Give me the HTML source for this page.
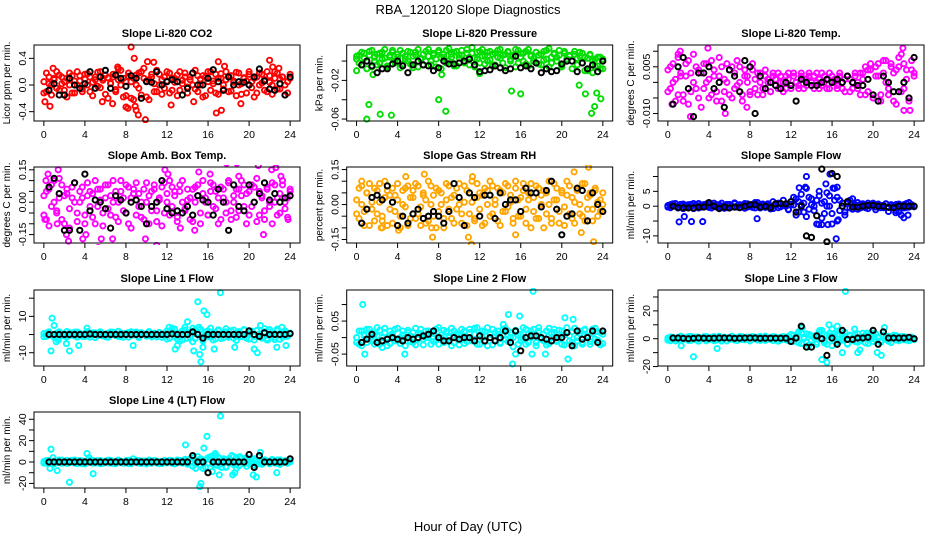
<!DOCTYPE html>
<html><head><meta charset="utf-8"><title>RBA_120120 Slope Diagnostics</title>
<style>html,body{margin:0;padding:0;background:#fff}svg{display:block;font-family:"Liberation Sans",sans-serif}</style>
</head><body>
<svg id="chart" width="936" height="540" viewBox="0 0 936 540" xmlns="http://www.w3.org/2000/svg">
<rect width="936" height="540" fill="#fff"/>
<text x="468" y="14" text-anchor="middle" font-size="13">RBA_120120  Slope Diagnostics</text>
<text x="468" y="531" text-anchor="middle" font-size="13">Hour of Day (UTC)</text>
<g id="panels"></g>
</svg>
<script>
const hours=[0,0.25,0.5,0.75,1,1.25,1.5,1.75,2,2.25,2.5,2.75,3,3.25,3.5,3.75,4,4.25,4.5,4.75,5,5.25,5.5,5.75,6,6.25,6.5,6.75,7,7.25,7.5,7.75,8,8.25,8.5,8.75,9,9.25,9.5,9.75,10,10.25,10.5,10.75,11,11.25,11.5,11.75,12,12.25,12.5,12.75,13,13.25,13.5,13.75,14,14.25,14.5,14.75,15,15.25,15.5,15.75,16,16.25,16.5,16.75,17,17.25,17.5,17.75,18,18.25,18.5,18.75,19,19.25,19.5,19.75,20,20.25,20.5,20.75,21,21.25,21.5,21.75,22,22.25,22.5,22.75,23,23.25,23.5,23.75,24];
const hoursBlack=[0.5,1,1.5,2,2.5,3,3.5,4,4.5,5,5.5,6,6.5,7,7.5,8,8.5,9,9.5,10,10.5,11,11.5,12,12.5,13,13.5,14,14.5,15,15.5,16,16.5,17,17.5,18,18.5,19,19.5,20,20.5,21,21.5,22,22.5,23,23.5,24];
const xTicks=[0,4,8,12,16,20,24];

const co2A=[0.05,-0.1,0.12,0.0,0.08,-0.05,0.15,0.02,-0.08,0.1,0.18,-0.12,0.06,0.0,0.14,-0.06,0.09,0.17,-0.1,0.04,0.12,-0.02,0.2,0.07,-0.14,0.11,0.03,0.16,-0.07,0.08,0.22,-0.18,0.05,0.13,-0.2,0.1,0.0,0.18,-0.15,0.25,0.06,-0.22,0.12,0.02,-0.1,0.16,0.08,-0.05,0.2,-0.12,0.1,0.04,0.15,-0.08,0.07,0.18,-0.03,0.12,0.0,0.22,-0.1,0.09,0.14,-0.16,0.05,0.2,0.02,-0.12,0.1,0.17,-0.06,0.08,0.13,-0.09,0.04,0.19,0.0,-0.14,0.11,0.06,0.16,-0.04,0.1,-0.12,0.18,0.03,0.08,-0.1,0.14,0.0,0.2,-0.06,0.09,0.12,-0.15,0.05,0.1];
const co2B=[-0.12,0.18,0.02,-0.15,0.1,0.2,-0.08,0.12,0.05,-0.18,0.0,0.14,-0.12,0.2,0.06,-0.1,0.16,0.0,0.12,-0.16,0.08,0.19,-0.04,0.1,0.15,-0.2,0.02,0.12,-0.1,0.24,0.0,0.1,-0.16,0.18,0.05,-0.22,0.15,-0.05,0.2,0.1,-0.18,0.08,0.16,-0.1,0.22,0.0,-0.14,0.12,0.06,0.18,-0.08,0.1,-0.16,0.2,0.02,0.12,-0.12,0.08,0.18,-0.06,0.14,0.0,-0.18,0.12,0.2,-0.08,0.06,0.16,-0.14,0.1,0.0,0.2,-0.1,0.14,0.06,-0.16,0.18,0.02,0.1,-0.12,0.2,0.05,-0.18,0.12,0.0,0.16,-0.08,0.2,0.04,-0.14,0.1,0.18,-0.06,0.12,0.0,-0.12,0.16];
const co2Out=[[0.1,-0.25],[0.6,-0.32],[0.9,0.25],[2,-0.15],[5.7,-0.25],[6.7,-0.28],[7.2,0.27],[8,-0.33],[8.5,0.57],[8.8,0.4],[9.2,-0.45],[9.9,-0.52],[10.1,0.35],[10.7,0.34],[12.4,-0.3],[14.6,-0.25],[17,0.35],[16.8,-0.42],[17.3,-0.38],[17.6,0.28],[19.2,-0.28],[22,0.37],[22.3,0.27],[22.9,0.25],[8.2,-0.35],[8.9,-0.32],[9.0,-0.38]];
const co2Black=[-0.08,0.02,-0.15,-0.15,0.1,0.0,-0.05,0.02,0.2,-0.05,0.12,0.22,-0.05,0.15,0.1,-0.02,0.14,0.1,-0.2,0.05,0.04,0.2,0.0,0.05,0.08,0.05,-0.15,-0.05,0.18,0.0,0.0,0.1,0.23,0.05,-0.08,0.12,0.0,0.05,0.04,0.0,0.12,0.24,0.06,-0.06,-0.08,0.02,-0.15,0.12];

const presA=[0.002,0.006,-0.004,0.008,0.0,0.01,-0.006,0.004,0.007,-0.002,0.009,0.003,-0.005,0.006,0.011,0.0,0.004,-0.007,0.008,0.002,0.01,-0.003,0.005,0.009,-0.006,0.003,0.007,0.0,0.012,-0.004,0.006,0.002,0.009,-0.008,0.004,0.011,0.0,0.007,-0.005,0.01,0.003,0.006,-0.002,0.012,0.004,0.008,-0.006,0.002,0.01,0.005,-0.003,0.009,0.001,0.007,-0.004,0.011,0.003,0.006,-0.007,0.009,0.002,0.005,0.012,-0.002,0.008,0.0,0.01,-0.005,0.006,0.003,0.009,-0.003,0.007,0.001,0.011,-0.006,0.004,0.008,0.0,0.006,-0.004,0.01,0.002,0.005,-0.008,0.007,0.003,0.009,-0.002,0.004,-0.01,0.006,0.0,-0.006,0.004,-0.008,0.002];
const presB=[0.005,-0.002,0.009,0.003,-0.008,0.006,0.011,0.0,-0.004,0.008,0.002,0.012,-0.006,0.004,0.009,-0.002,0.007,0.011,-0.003,0.005,0.0,0.009,-0.007,0.006,0.012,0.002,-0.004,0.01,0.005,0.0,0.008,-0.006,0.011,0.003,0.007,-0.002,0.013,0.004,0.009,-0.005,0.006,0.011,0.0,0.008,-0.004,0.014,0.003,0.009,-0.002,0.012,0.006,0.0,0.01,-0.005,0.008,0.004,0.012,-0.002,0.007,0.01,0.0,0.006,-0.006,0.011,0.004,0.008,-0.003,0.012,0.005,0.0,0.009,0.006,-0.004,0.01,0.002,0.013,-0.002,0.007,0.004,0.011,-0.006,0.008,0.002,0.006,0.0,0.01,-0.004,0.005,0.008,-0.01,0.003,0.007,-0.012,0.002,-0.005,0.004,-0.008];
const presOut=[[1.2,-0.045],[1.0,-0.06],[2.3,-0.055],[3.4,-0.056],[8,-0.04],[8.7,-0.052],[1.6,-0.014],[12,-0.013],[15.1,-0.031],[16,-0.034],[21.7,-0.025],[22.3,-0.034],[22.9,-0.054],[23.2,-0.047],[23.4,-0.033],[23.8,-0.039],[0,-0.01],[8.3,-0.014]];
const presBlack=[-0.004,0.0,-0.005,-0.012,-0.008,-0.008,-0.003,0.0,-0.005,-0.012,-0.004,0.0,-0.004,-0.005,-0.01,-0.007,0.0,-0.003,-0.003,-0.002,0.0,0.002,-0.004,-0.011,-0.01,-0.009,-0.005,-0.007,-0.01,-0.008,0.005,-0.007,-0.005,-0.008,-0.002,-0.012,-0.008,-0.011,-0.01,-0.003,0.0,0.0,-0.011,-0.002,-0.008,-0.004,-0.011,0.0];

const tempA=[0.004,-0.002,0.006,0.001,-0.004,0.003,-0.006,0.002,0.007,-0.003,0.0,0.005,-0.005,0.003,-0.002,0.006,0.001,-0.004,0.004,-0.006,0.002,0.005,-0.003,0.0,0.004,-0.005,0.003,-0.001,0.005,-0.004,0.002,0.0,-0.003,0.004,0.001,-0.004,0.003,-0.002,0.002,0.0,-0.003,0.003,0.001,-0.002,0.002,0.0,-0.002,0.003,-0.001,0.002,0.0,-0.002,0.003,0.001,-0.001,0.002,0.0,-0.002,0.003,0.001,-0.001,0.002,-0.002,0.003,0.0,0.001,-0.002,0.002,0.0,-0.003,0.002,0.001,-0.002,0.003,0.0,-0.004,0.003,0.005,-0.003,0.004,-0.005,0.002,0.006,-0.004,0.003,0.007,-0.002,0.005,-0.006,0.004,0.008,-0.003,0.006,0.001,-0.005,0.004,0.002];
const tempB=[-0.003,0.005,0.0,-0.006,0.008,0.002,-0.004,0.006,-0.007,0.003,0.009,-0.002,0.004,-0.008,0.006,0.0,-0.005,0.007,0.002,-0.003,0.008,-0.006,0.001,0.006,-0.004,0.005,-0.002,0.007,0.0,-0.006,0.004,0.002,-0.004,0.006,-0.002,0.003,0.0,-0.004,0.004,0.001,-0.003,0.002,-0.001,0.003,0.0,-0.003,0.002,0.001,-0.002,0.003,0.0,-0.001,0.002,-0.002,0.001,0.003,-0.001,0.002,0.0,-0.002,0.003,0.0,0.001,-0.002,0.002,0.0,-0.001,0.003,-0.002,0.001,0.002,-0.003,0.0,0.002,-0.002,0.003,0.001,-0.004,0.004,0.006,-0.005,0.005,0.002,-0.006,0.007,0.0,-0.004,0.006,0.003,-0.007,0.005,0.009,-0.002,0.004,-0.006,0.007,0.003];
const tempOut=[[0.4,-0.007],[2.2,-0.011],[3.9,0.011],[5.6,-0.01],[7.7,-0.008],[22.9,0.011],[23.0,-0.009],[23.6,-0.009],[1.2,0.01],[1.0,0.009]];
const tempBlack=[-0.007,0.005,0.008,-0.002,-0.011,0.003,0.003,0.005,-0.002,0.0,-0.008,0.004,0.002,-0.003,0.007,0.005,-0.01,0.002,-0.002,0.0,-0.001,-0.002,0.0,-0.001,-0.006,0.001,0.0,-0.001,-0.001,0.0,0.001,0.0,0.001,0.0,0.002,0.0,-0.001,-0.001,0.001,-0.004,-0.006,0.002,0.0,-0.003,-0.003,0.0,-0.005,0.008];

const ambA=[0.03,-0.08,0.06,-0.02,0.1,-0.05,0.02,0.08,-0.1,0.04,-0.03,0.07,0.0,-0.09,0.05,0.02,-0.06,0.09,-0.02,0.04,-0.1,0.06,0.01,-0.05,0.08,-0.03,0.03,0.1,-0.07,0.0,0.05,-0.04,0.08,-0.1,0.02,0.06,-0.06,0.04,0.0,-0.08,0.09,0.03,-0.04,0.06,-0.09,0.01,0.07,-0.05,0.04,0.1,-0.02,0.05,-0.07,0.08,0.0,-0.04,0.06,0.02,-0.09,0.07,0.03,-0.05,0.1,0.0,-0.06,0.05,0.08,-0.03,0.02,-0.08,0.06,0.0,0.09,-0.04,0.03,-0.07,0.06,0.1,-0.02,0.04,-0.06,0.08,0.0,-0.09,0.05,0.02,-0.04,0.07,-0.02,0.09,0.0,-0.06,0.04,0.08,-0.03,0.02,0.05];
const ambB=[-0.06,0.05,-0.11,0.08,0.0,-0.04,0.11,-0.08,0.03,0.06,-0.12,0.02,0.09,-0.05,0.0,0.07,-0.1,0.03,0.05,-0.07,0.1,-0.02,0.06,-0.11,0.02,0.08,-0.06,0.0,0.05,-0.09,0.1,0.02,-0.05,0.07,-0.12,0.04,0.09,-0.02,-0.07,0.06,0.0,-0.1,0.05,0.08,-0.04,0.02,-0.11,0.09,0.0,-0.06,0.07,0.03,-0.09,0.05,0.1,-0.03,0.01,-0.08,0.06,0.0,0.08,-0.1,0.04,0.02,-0.06,0.09,-0.02,0.05,-0.1,0.07,0.02,-0.05,0.1,-0.08,0.0,0.06,-0.04,0.03,0.08,-0.1,0.05,-0.02,0.07,0.11,-0.06,0.03,-0.08,0.06,0.0,-0.1,0.08,0.02,-0.05,0.1,0.0,-0.07,0.06];
const ambOut=[[0.1,-0.08],[0.2,0.1],[0.4,0.13],[1.3,-0.1],[2.2,-0.15],[1.4,0.15],[2.4,-0.18],[5.3,-0.21],[5.6,-0.17],[6.7,-0.17],[11,-0.2],[11.8,0.15],[12.1,0.13],[13.3,-0.12],[14.7,-0.13],[15.1,0.14],[16.2,0.13],[17.8,0.18],[18.8,0.18],[19,0.12],[20.9,0.17],[21.4,-0.15],[22.2,0.15],[22.6,0.16],[23.1,0.12],[23.8,-0.08],[9.9,-0.17],[3.8,-0.17],[4.1,-0.15]];
const ambBlack=[0.07,0.11,0.04,-0.13,-0.13,0.09,-0.13,0.13,-0.04,0.01,0.0,-0.03,-0.12,0.03,0.01,-0.05,0.0,0.01,-0.02,-0.1,-0.02,0.0,0.1,-0.03,-0.05,-0.04,-0.05,-0.02,-0.06,0.03,0.01,0.0,-0.06,0.06,0.0,-0.13,0.08,-0.02,-0.04,0.08,0.0,0.04,0.09,0.01,0.04,0.0,0.02,0.03];

const rhA=[0.02,-0.06,0.08,-0.03,0.05,-0.09,0.01,0.07,-0.04,0.09,-0.07,0.03,0.06,-0.02,-0.08,0.04,0.09,-0.05,0.0,0.07,-0.09,0.03,0.06,-0.06,0.08,-0.01,0.04,-0.08,0.1,0.0,-0.05,0.07,-0.03,0.05,-0.1,0.02,0.08,-0.06,0.04,-0.02,0.09,-0.08,0.01,0.06,-0.04,0.1,-0.07,0.03,0.05,-0.09,0.07,0.0,-0.05,0.08,0.02,-0.07,0.06,-0.03,0.09,-0.01,0.04,-0.08,0.07,0.02,-0.05,0.09,-0.02,0.05,-0.1,0.03,0.08,-0.06,0.0,0.06,-0.04,0.1,-0.08,0.02,0.07,-0.03,0.05,-0.09,0.04,0.08,-0.06,0.01,0.06,-0.04,0.09,-0.07,0.03,0.05,-0.02,0.07,-0.05,0.02,0.0];
const rhB=[-0.04,0.07,0.0,-0.09,0.05,0.09,-0.02,-0.07,0.06,0.01,-0.05,0.1,-0.09,0.04,0.07,-0.03,0.02,-0.1,0.06,-0.01,0.08,-0.06,0.03,0.09,-0.04,-0.09,0.05,0.02,-0.07,0.08,0.04,-0.1,0.06,0.0,-0.06,0.09,-0.02,0.03,-0.08,0.07,0.0,-0.04,0.08,-0.09,0.05,0.01,-0.06,0.09,-0.02,0.04,-0.08,0.06,0.1,-0.04,0.0,0.07,-0.09,0.05,-0.03,0.08,0.01,-0.06,0.1,-0.05,0.03,0.06,-0.08,0.02,0.09,-0.03,-0.06,0.07,0.04,-0.1,0.05,0.0,-0.06,0.09,0.02,-0.08,0.06,-0.01,0.1,-0.04,0.03,-0.08,0.07,0.0,-0.05,0.09,-0.02,0.04,-0.07,0.06,0.01,-0.03,0.05];
const rhOut=[[0.5,0.1],[4.8,0.12],[6.6,0.13],[7.3,-0.1],[7.4,-0.14],[10.9,-0.14],[11.2,-0.17],[11.3,0.12],[15.5,-0.13],[21.2,0.14],[21.9,-0.12],[22.6,0.16],[23.1,-0.16],[2.5,-0.1],[2.4,-0.1],[4.1,-0.11]];
const rhBlack=[-0.08,-0.02,0.03,0.04,0.02,0.08,0.01,-0.09,-0.05,-0.08,-0.04,-0.02,-0.06,-0.05,-0.03,-0.05,-0.08,-0.03,0.09,0.03,-0.09,0.05,0.03,-0.05,0.04,0.04,-0.06,0.05,0.0,0.02,0.02,-0.03,0.07,0.05,0.05,-0.01,0.06,0.1,-0.02,-0.13,-0.05,-0.04,0.07,0.06,-0.07,0.05,0.0,-0.03];

const flowA=[0.2,-0.5,0.8,0.0,-0.3,0.6,-0.8,0.3,0.5,-0.2,0.9,0.1,-0.6,0.4,0.0,0.7,-0.4,0.2,1.0,-0.3,0.5,0.0,-0.7,0.6,0.3,-0.2,0.8,0.0,-0.5,0.4,0.9,-0.3,0.2,0.6,-0.6,1.2,0.0,0.4,-0.4,0.8,0.1,-0.8,0.5,1.0,-0.2,0.3,0.7,-1.0,1.5,0.4,2.5,-2.0,4.0,1.0,-3.5,3.0,0.5,-1.5,2.0,5.0,-4.0,1.5,0.0,3.5,-2.5,6.0,-5.0,2.0,1.0,-3.0,0.8,2.0,-1.0,0.5,1.2,-0.6,0.8,0.2,-0.8,0.5,1.0,-0.3,0.6,-0.5,0.3,0.8,-0.2,0.5,0.0,-1.5,0.7,0.3,-0.6,0.9,-0.3,0.5,0.0];
const flowB=[-0.3,0.5,0.0,0.9,-0.6,0.2,0.7,-0.4,0.0,0.6,-0.8,0.4,0.9,-0.3,0.5,0.0,0.8,-0.6,0.3,0.5,-0.4,1.0,0.2,-0.5,0.6,0.0,1.1,-0.3,0.5,0.2,-0.7,0.8,0.0,-0.4,1.2,0.3,-0.6,0.7,0.0,0.4,-0.9,1.5,0.2,-0.5,0.8,2.0,0.0,-1.2,0.6,3.0,-3.0,1.5,0.5,-2.0,6.0,-1.0,2.5,0.0,-6.0,3.5,1.0,-2.5,4.5,0.0,-6.0,2.0,3.0,-1.5,0.0,-2.0,1.5,-0.5,2.5,0.0,-1.0,0.6,0.2,-0.5,1.0,0.0,0.4,-1.2,0.7,0.2,-0.5,0.8,-1.8,0.3,0.0,0.6,-2.0,-3.0,0.5,-0.4,1.2,0.0,-0.2];
const flowOut=[[1.1,-5.3],[1.6,-3.5],[2.3,-5.2],[3.4,-5.2],[8.7,-4.2],[13.5,10],[12.8,6.2],[13.4,6.4],[15.4,7.5],[15.8,10.8],[16.1,6.1],[16.5,6.4],[16.6,-4.6],[16.4,-11],[15,-6.2],[15.6,-6.2],[14.7,-6.2],[23.0,-3.9],[23.4,-3],[22.2,-2.2]];
const flowBlack=[0.0,-0.5,-0.5,-0.6,-0.6,-0.3,-0.3,1.2,0.0,-0.8,-0.3,-0.6,-0.3,-0.5,0.0,0.5,0.5,-0.3,0.0,-0.5,0.8,0.9,0.8,1.5,-2.0,0.0,-10.0,-10.5,-3.2,12.5,-12.0,11.0,10.0,0.0,1.5,-0.3,-0.3,0.0,0.3,0.3,0.0,0.0,-0.4,-0.5,0.0,0.0,0.0,0.0];

const l1A=[0.5,-1.0,1.2,0.0,-1.5,0.8,1.5,-0.5,0.2,-1.2,1.0,0.3,-0.8,1.4,0.0,-1.0,0.6,1.2,-1.4,0.4,0.9,-0.6,1.5,0.0,-1.2,0.7,-0.3,1.3,0.2,-1.0,0.8,-1.5,0.5,1.1,-0.4,0.0,1.4,-1.1,0.6,0.2,-0.9,1.2,-0.2,0.7,-1.3,1.0,0.0,-0.6,2.0,-2.0,1.5,3.0,-2.5,0.5,-3.0,2.5,1.0,-1.8,3.5,-2.2,1.0,2.8,-3.5,0.0,2.0,-1.5,1.2,-2.4,2.6,0.5,-1.8,1.5,-0.5,2.0,-2.0,0.8,1.6,-1.2,2.4,0.0,-2.5,1.8,-1.0,2.2,0.4,-2.0,1.5,-3.0,2.8,0.0,-1.5,3.0,-2.6,1.0,2.0,-1.0,0.5];
const l1B=[-1.2,0.8,1.5,-0.3,0.0,-1.6,1.1,0.4,-0.9,1.7,-0.5,0.2,1.3,-1.4,0.7,0.0,-1.1,1.6,-0.2,0.9,-1.7,0.5,1.2,-0.8,0.3,-1.5,1.4,0.0,-0.6,1.8,-1.2,0.6,0.1,-1.4,1.5,-0.3,0.8,-1.6,1.0,0.2,-0.7,1.6,-1.3,0.4,0.0,1.2,-1.5,0.6,-2.5,1.5,3.5,-1.0,0.5,-3.5,2.0,4.0,-2.0,1.0,-4.0,2.5,0.0,3.0,-2.8,1.5,-1.0,3.5,-3.0,0.8,2.0,-2.2,1.0,3.2,-1.5,0.0,2.5,-3.2,1.2,-0.8,2.8,-2.0,0.5,1.8,-3.0,2.2,0.0,-1.2,3.2,-2.2,1.5,0.5,-2.8,2.0,0.0,-1.5,1.2,-0.4,0.8];
const l1Out=[[0.7,-9],[0.8,9],[1.0,5],[1.2,-4],[1.4,-3],[2.2,-5],[2.5,-9],[3.4,-6],[4.2,3.5],[8.7,-6],[12.2,4],[12.8,-8],[13.0,-6],[14,7],[14.6,-9],[15,18],[15.1,4],[15.2,-11],[15.3,-15],[15.5,-7],[15.6,13],[15.9,11],[16.6,-8],[17.2,23],[18.6,-7],[20.5,-8],[20.8,-10],[21.1,5],[21.8,-3],[22.7,-7],[23.6,-6],[23.2,4]];
const l1Black=[0,0,0,0,0,0,0,0,0.3,0,0,0,0,0,0,0,0,0,0,0,0,0,0,0,0.3,0,0,0,1.5,0,-2.0,0,0,0,0,0,0,0,0,2.0,0,-1.0,1.0,0,0,0,0,0.5];

const l2A=[0.0,-0.02,0.02,0.005,-0.015,0.025,-0.01,0.01,0.03,-0.02,0.0,0.015,-0.025,0.02,0.005,-0.01,0.028,-0.018,0.008,0.0,0.022,-0.012,0.015,-0.022,0.01,0.025,-0.005,0.0,0.02,-0.02,0.012,-0.008,0.03,0.0,-0.015,0.018,0.005,-0.025,0.02,-0.003,0.01,0.025,-0.018,0.0,0.015,-0.01,0.028,-0.02,0.008,0.02,-0.012,0.03,0.0,-0.022,0.015,0.01,-0.015,0.025,-0.005,0.02,0.0,-0.028,0.018,0.008,-0.01,0.03,-0.02,0.012,0.0,0.025,-0.015,0.02,-0.005,0.01,-0.022,0.028,0.0,0.015,-0.012,0.022,-0.02,0.008,0.03,-0.01,0.018,-0.025,0.0,0.02,-0.015,0.025,0.005,-0.02,0.012,0.028,-0.008,0.015,-0.018];
const l2B=[-0.015,0.02,-0.025,0.01,0.025,-0.005,0.015,-0.02,0.005,0.022,-0.012,0.028,0.0,-0.018,0.012,0.025,-0.008,0.0,0.02,-0.025,0.015,0.005,-0.015,0.028,-0.005,0.012,-0.022,0.02,0.0,0.015,-0.012,0.025,-0.02,0.008,0.022,-0.01,0.0,0.028,-0.015,0.012,-0.022,0.005,0.02,-0.012,0.025,-0.005,0.01,0.03,-0.02,0.0,0.018,-0.025,0.01,0.025,-0.008,0.02,-0.018,0.005,0.028,-0.012,0.015,0.0,0.022,-0.02,0.01,-0.005,0.025,-0.015,0.02,0.005,-0.025,0.03,0.0,-0.01,0.02,-0.018,0.012,0.025,-0.008,0.0,0.02,-0.022,0.015,0.005,-0.015,0.028,-0.01,0.012,-0.02,0.022,0.0,-0.012,0.025,-0.005,0.018,-0.022,0.01];
const l2Out=[[0.6,0.1],[0.8,-0.05],[4.7,-0.05],[2.5,-0.03],[14.3,0.04],[14.8,0.07],[15.2,-0.08],[15.9,0.065],[17.2,0.14],[17.1,-0.05],[18.4,-0.05],[20.3,0.06],[20.6,-0.065],[21.1,0.055],[15.5,-0.05]];
const l2Black=[-0.015,-0.005,0.01,-0.015,-0.01,-0.005,0.0,-0.005,-0.01,0.0,-0.005,0.0,0.005,0.01,0.02,0.0,-0.01,-0.01,0.0,-0.005,0.0,0.0,-0.01,0.005,-0.01,0.0,-0.01,0.0,0.02,-0.015,0.02,-0.04,0.0,0.005,0.005,0.0,-0.005,-0.01,0.0,0.0,0.015,-0.025,0.02,-0.005,0.0,0.02,-0.015,0.02];

const l3A=[0.5,-1.5,1.0,0.0,-1.0,1.8,-0.5,0.8,1.5,-1.2,0.3,1.2,-1.8,0.6,0.0,1.5,-0.8,1.0,-1.4,0.4,1.8,-0.3,0.9,-1.6,0.2,1.3,-1.0,0.7,1.6,-0.6,0.0,1.2,-1.5,0.5,1.0,-0.9,1.7,0.2,-1.2,0.8,-0.4,1.5,0.0,-1.8,1.0,0.4,-0.7,1.6,-2.0,2.5,0.5,-3.0,4.0,1.0,-2.5,3.0,-1.0,2.0,-4.0,5.0,0.0,-3.0,2.5,4.0,-5.0,1.5,3.0,-2.0,0.5,4.5,-3.5,2.0,-1.0,3.0,-2.5,1.0,4.0,-3.0,2.0,0.0,-2.0,3.5,1.0,-1.5,2.5,-0.5,1.8,-2.8,1.0,2.2,-1.5,0.5,1.5,-1.0,0.0,1.2,-0.6];
const l3B=[-1.0,1.2,0.0,-1.6,0.8,1.5,-0.4,0.2,-1.3,1.7,0.5,-0.9,1.0,-0.2,1.4,-1.5,0.6,0.0,1.6,-1.0,0.3,-1.7,1.1,0.7,-0.5,1.8,0.0,-1.3,0.9,1.4,-0.8,0.4,-1.6,1.5,0.0,1.0,-1.2,0.6,1.8,-0.4,0.0,-1.3,1.2,0.5,-0.9,1.6,0.0,-1.4,3.0,-2.0,1.5,5.0,-3.5,0.0,3.5,-4.5,2.0,0.5,-2.5,3.0,6.0,-1.5,-4.0,2.0,0.0,3.5,-2.5,5.5,-1.0,1.5,-4.0,2.5,0.5,-2.0,3.5,-1.5,0.0,2.5,-3.5,1.5,4.0,-1.0,0.5,-2.5,2.0,1.0,-1.8,0.6,2.5,-1.0,0.0,1.5,-0.8,1.0,-1.4,0.4,0.0];
const l3Out=[[1.3,-5],[2.5,-13],[4.8,-7],[12.7,4],[13.1,8],[13.6,-6],[14.8,6],[15.0,-15],[15.5,-17],[15.7,10],[16.0,7],[16.5,9],[17.0,-10],[17.3,34],[18.2,7],[18.5,-10],[18.7,-8],[19.4,4],[20.4,-10],[20.8,-12],[21.1,8]];
const l3Black=[0.5,0.5,0.3,0.0,0.3,0.5,0.4,0.3,0.4,0.5,0.5,0.5,0.3,0.4,0.5,0.5,0.5,0.3,0.4,0.4,0.4,0.4,0.4,-2.0,0.5,9.0,-6.0,-6.0,2.0,0.0,-12.0,0.5,-4.0,6.0,-0.5,-0.5,0.5,0.5,1.0,6.0,-4.0,5.0,0.5,0.5,0.5,0.5,1.0,0.0];

const l4A=[0.5,-1.2,1.5,0.0,-1.8,1.0,-0.5,1.8,0.3,-1.4,0.8,1.6,-1.0,0.2,1.3,-1.6,0.6,-0.3,1.7,-1.1,0.4,1.2,-1.7,0.0,0.9,-0.8,1.5,-1.3,0.5,1.8,-0.6,0.0,1.2,-1.5,0.7,-0.2,1.6,-1.0,0.3,1.1,-1.8,0.8,0.0,1.4,-0.9,0.5,-1.5,1.0,0.0,1.6,-1.2,0.4,1.8,-0.6,0.0,1.0,-2.0,3.0,-4.0,2.0,5.0,-3.0,1.0,-5.0,4.0,2.0,-2.5,6.0,-3.5,1.0,3.0,-4.5,2.0,-1.0,5.0,-6.0,0.5,3.5,-2.0,4.0,-1.5,2.5,-3.0,1.5,0.0,-2.0,2.0,1.0,-1.5,2.5,-1.0,1.8,-2.2,0.5,1.2,-0.8,0.0];
const l4B=[-1.0,1.4,0.2,-1.6,0.9,-0.4,1.7,-1.2,0.0,1.5,-0.7,0.5,1.8,-1.5,0.3,1.0,-1.8,0.8,-0.2,1.6,-1.0,0.6,1.3,-1.4,0.0,1.7,-0.9,0.4,-1.6,1.2,0.8,-1.1,0.2,1.5,-1.7,0.6,0.0,1.3,-1.4,0.9,-0.3,1.8,-1.2,0.5,1.0,-1.6,0.3,1.4,-0.8,0.0,1.2,-1.8,0.6,1.5,-1.0,2.5,-1.5,0.0,4.0,-2.0,1.5,3.0,-6.0,2.0,-1.0,5.0,0.5,-3.0,4.5,-1.5,2.0,-5.0,3.0,0.0,-2.5,4.0,-3.5,1.0,2.5,-4.0,1.5,0.0,3.0,-2.0,1.5,-1.0,2.0,0.5,-1.8,1.2,0.0,-1.4,2.0,-0.5,1.0,-1.2,0.6];
const l4Out=[[0.6,-6],[0.7,12],[0.9,4],[1.3,-8],[2.5,-19],[4.2,8],[4.4,4],[4.8,-11],[8.7,3],[13.8,16],[14.8,-6],[15.2,-23],[15.3,-20],[15.6,13],[15.9,24],[16.4,-9],[16.5,6],[16.7,8],[17.1,-12],[17.2,43],[17.3,-5],[18.3,6],[18.4,-12],[18.6,-10],[19.1,5],[20.4,-12],[20.7,-14],[21.1,9],[22.7,-10],[21.5,2]];
const l4Black=[0,0,0,0,0,0,0,0,0,0,0,0,0,0,0,0,0,0,0,0,0,0,0,0,0,0,0,0,6,0,0,-10,0,0,0,0,0,0,0,7,-5,6,0,0,0,0,0,3];

const panels=[
 {name:'co2',title:'Slope Li-820 CO2',ylab:'Licor ppm per min.',col:0,row:0,ymin:-0.54,ymax:0.6,ticks:[-0.4,0,0.4],labels:['-0.4','0.0','0.4'],color:'#ff0000',A:co2A,B:co2B,out:co2Out,black:co2Black},
 {name:'pressure',title:'Slope Li-820 Pressure',ylab:'kPa per min.',col:1,row:0,ymin:-0.062,ymax:0.0166,ticks:[-0.06,-0.04,-0.02,0],labels:['-0.06','','-0.02',''],color:'#00dd00',A:presA,B:presB,out:presOut,black:presBlack},
 {name:'li820-temp',title:'Slope Li-820 Temp.',ylab:'degrees C per min.',col:2,row:0,ymin:-0.0124,ymax:0.012,ticks:[-0.01,-0.005,0,0.005,0.01],labels:['-0.010','','','0.005',''],color:'#ff00ff',A:tempA,B:tempB,out:tempOut,black:tempBlack},
 {name:'amb-box-temp',title:'Slope Amb. Box Temp.',ylab:'degrees C per min.',col:0,row:1,ymin:-0.189,ymax:0.163,ticks:[-0.15,-0.1,-0.05,0,0.05,0.1,0.15],labels:['-0.15','','','0.00','','','0.15'],color:'#ff00ff',A:ambA,B:ambB,out:ambOut,black:ambBlack},
 {name:'gas-stream-rh',title:'Slope Gas Stream RH',ylab:'percent per min.',col:1,row:1,ymin:-0.165,ymax:0.161,ticks:[-0.15,-0.1,-0.05,0,0.05,0.1,0.15],labels:['-0.15','','','0.00','','','0.15'],color:'#ffa500',A:rhA,B:rhB,out:rhOut,black:rhBlack},
 {name:'sample-flow',title:'Slope Sample Flow',ylab:'ml/min per min.',col:2,row:1,ymin:-12.4,ymax:13.2,ticks:[-10,-5,0,5,10],labels:['-10','','0','5',''],color:'#0000ff',A:flowA,B:flowB,out:flowOut,black:flowBlack},
 {name:'line1-flow',title:'Slope Line 1 Flow',ylab:'ml/min per min.',col:0,row:2,ymin:-17.3,ymax:24.5,ticks:[-10,0,10,20],labels:['-10','','10',''],color:'#00ffff',A:l1A,B:l1B,out:l1Out,black:l1Black},
 {name:'line2-flow',title:'Slope Line 2 Flow',ylab:'ml/min per min.',col:1,row:2,ymin:-0.086,ymax:0.144,ticks:[-0.05,0,0.05,0.1],labels:['-0.05','','0.05',''],color:'#00ffff',A:l2A,B:l2B,out:l2Out,black:l2Black},
 {name:'line3-flow',title:'Slope Line 3 Flow',ylab:'ml/min per min.',col:2,row:2,ymin:-19.6,ymax:35,ticks:[-20,-10,0,10,20,30],labels:['-20','','0','','20',''],color:'#00ffff',A:l3A,B:l3B,out:l3Out,black:l3Black},
 {name:'line4-flow',title:'Slope Line 4 (LT) Flow',ylab:'ml/min per min.',col:0,row:3,ymin:-24.3,ymax:46.8,ticks:[-20,-10,0,10,20,30,40],labels:['-20','','0','','20','','40'],color:'#00ffff',A:l4A,B:l4B,out:l4Out,black:l4Black}
];

const NS='http://www.w3.org/2000/svg';
const colX=[34,346.7,658], rowY=[45,167,290,412], W=266, H=76, X0=-0.96, X1=24.96;
const root=document.getElementById('panels');
function mk(tag,attrs,parent){const e=document.createElementNS(NS,tag);for(const k in attrs)e.setAttribute(k,attrs[k]);parent.appendChild(e);return e;}

panels.forEach(function(p,pi){
  const L=colX[p.col], T=rowY[p.row];
  const sx=h=>L+(h-X0)/(X1-X0)*W;
  const sy=v=>T+(p.ymax-v)/(p.ymax-p.ymin)*H;
  const g=mk('g',{},root);
  
  
  const cp=mk('clipPath',{id:'clip'+pi},g);
  mk('rect',{x:L-2,y:T-2,width:W+4,height:H+4},cp);
  const pts=mk('g',{'clip-path':'url(#clip'+pi+')'},g);
  
  
  function dot(h,v,col,sw,kind){
    if(v===null||v===undefined)return;
    const c=mk('circle',{cx:sx(h).toFixed(1),cy:sy(v).toFixed(1),r:2.6,fill:'none',stroke:col,'stroke-width':sw},pts);
    
    
  }
  const n=Math.min(hours.length,p.A.length);
  for(let i=0;i<n;i++)dot(hours[i],p.A[i],p.color,1.9,p.name+'-point');
  const nb=Math.min(hours.length,p.B.length);
  for(let i=0;i<nb;i++)dot(hours[i],p.B[i],p.color,1.9,p.name+'-point');
  p.out.forEach(o=>dot(o[0],o[1],p.color,1.9,p.name+'-outlier'));
  const nk=Math.min(hoursBlack.length,p.black.length);
  for(let i=0;i<nk;i++)dot(hoursBlack[i],p.black[i],'#000',2.0,p.name+'-reference-point');
  const box=mk('rect',{x:L,y:T,width:W,height:H,fill:'none',stroke:'#000','stroke-width':1},g);
  
  
  const xa=mk('g',{},g);
  
  
  xTicks.forEach(t=>{
    mk('line',{x1:sx(t),x2:sx(t),y1:T+H,y2:T+H+5,stroke:'#000'},xa);
    const tx=mk('text',{x:sx(t),y:T+H+17,'text-anchor':'middle','font-size':10.5},xa);
    tx.textContent=String(t);
    
    
  });
  const ya=mk('g',{},g);
  
  
  p.ticks.forEach((t,i)=>{
    const y=sy(t);
    mk('line',{x1:L-5,x2:L,y1:y,y2:y,stroke:'#000'},ya);
    if(p.labels[i]){
      const tx=mk('text',{x:L-8,y:y,'text-anchor':'middle','font-size':10.5,transform:'rotate(-90 '+(L-8)+' '+y+')'},ya);
      tx.textContent=p.labels[i];
      
      
    }
  });
  const yt=mk('text',{x:L-24,y:T+H/2,'text-anchor':'middle','font-size':10,transform:'rotate(-90 '+(L-24)+' '+(T+H/2)+')'},g);
  yt.textContent=p.ylab;
  
  
  const tt=mk('text',{x:L+W/2,y:T-8,'text-anchor':'middle','font-size':11,'font-weight':'bold'},g);
  tt.textContent=p.title;
  
  
});
</script>
</body></html>
